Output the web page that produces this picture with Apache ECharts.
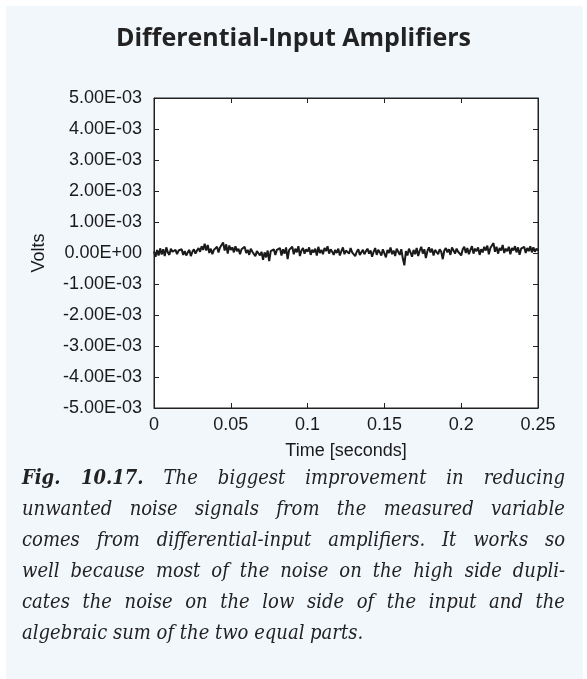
<!DOCTYPE html>
<html>
<head>
<meta charset="utf-8">
<script src="https://cdn.jsdelivr.net/npm/echarts@6/dist/echarts.min.js"></script>
<style>
html,body{margin:0;padding:0;background:#fff;}
#wrap{position:relative;width:587px;height:679px;}
#panel{position:absolute;left:6px;top:6px;width:577px;height:673px;background:#f2f7fc;}
#main{position:absolute;left:0;top:0;width:587px;height:679px;}
.cap{position:absolute;left:22px;top:462px;width:543px;font-family:'DejaVu Serif Condensed','DejaVu Serif',serif;font-style:italic;font-size:20px;color:#222;}
.cap div{height:31px;line-height:31px;text-align:justify;text-align-last:justify;white-space:nowrap;}
.cap div.last{text-align-last:left;}
</style>
</head>
<body>
<div id="wrap">
<div id="panel"></div>
<div id="main"></div>
<div class="cap">
<div><b>Fig. 10.17.</b> The biggest improvement in reducing</div>
<div>unwanted noise signals from the measured variable</div>
<div>comes from differential-input amplifiers. It works so</div>
<div>well because most of the noise on the high side dupli-</div>
<div>cates the noise on the low side of the input and the</div>
<div class="last">algebraic sum of the two equal parts.</div>
</div>
</div>
<script type="text/javascript">
// time step 1 ms, values in millivolts
var timeStart = 0;
var timeStep = 0.001;
var noiseMilliVolts = [
  0.05, -0.12, 0.10, -0.08, 0.15, -0.05, 0.12, -0.10, 0.18, 0.02,
  -0.06, 0.14, 0.04, -0.02, 0.10, -0.04, 0.08, 0.02, 0.12, -0.06,
  0.06, -0.08, 0.02, 0.10, -0.10, 0.04, 0.12, -0.02, 0.08, 0.16,
  0.04, 0.22, 0.10, 0.30, 0.08, 0.26, 0.00, 0.14, -0.04, 0.10,
  0.06, 0.20, 0.02, 0.18, 0.12, 0.34, 0.08, 0.28, -0.02, 0.24,
  0.10, 0.18, 0.02, 0.22, 0.06, 0.14, -0.04, 0.12, 0.08, 0.20,
  0.00, 0.10, -0.06, 0.14, 0.04, 0.08, -0.10, 0.06, 0.02, -0.08,
  0.04, -0.22, 0.02, -0.14, 0.08, -0.26, 0.06, 0.00, 0.12, -0.06,
  0.10, 0.04, 0.16, -0.08, 0.12, -0.02, 0.18, -0.20, 0.10, 0.06,
  0.20, -0.04, 0.14, 0.02, 0.22, -0.10, 0.08, 0.16, -0.02, 0.12,
  0.04, 0.18, -0.06, 0.10, 0.02, 0.14, -0.08, 0.20, 0.00, 0.10,
  -0.04, 0.16, 0.06, 0.22, -0.02, 0.12, 0.04, -0.06, 0.10, 0.00,
  0.14, -0.08, 0.06, 0.18, -0.04, 0.08, 0.12, -0.02, 0.16, 0.02,
  0.08, -0.10, 0.04, 0.12, -0.06, 0.02, 0.10, -0.04, 0.06, 0.14,
  -0.02, 0.08, -0.12, 0.04, 0.16, -0.06, 0.10, 0.02, -0.08, 0.12,
  0.06, -0.14, 0.10, 0.00, 0.18, -0.04, 0.08, -0.10, 0.14, 0.04,
  -0.06, 0.12, -0.18, -0.40, 0.06, -0.08, 0.14, 0.02, -0.12, 0.10,
  -0.04, 0.16, -0.10, 0.08, 0.20, -0.02, 0.12, -0.16, 0.06, 0.18,
  0.02, 0.14, -0.08, 0.10, 0.16, -0.04, 0.12, 0.04, -0.20, 0.08,
  0.16, 0.02, 0.12, -0.06, 0.18, 0.08, -0.02, 0.14, 0.04, 0.10,
  -0.08, 0.12, 0.20, 0.00, 0.16, -0.04, 0.10, 0.22, -0.02, 0.14,
  0.06, 0.18, -0.06, 0.12, 0.02, 0.20, 0.08, 0.24, -0.04, 0.16,
  0.10, 0.32, 0.04, 0.20, -0.02, 0.16, 0.08, 0.26, 0.00, 0.14,
  0.06, 0.20, -0.04, 0.16, 0.08, 0.22, 0.02, 0.18, -0.06, 0.14,
  0.10, 0.20, 0.00, 0.16, 0.06, 0.22, 0.02, 0.18, 0.04, 0.14,
  0.08
];
var yTickLabels = {
  '5': '5.00E-03', '4': '4.00E-03', '3': '3.00E-03', '2': '2.00E-03', '1': '1.00E-03',
  '0': '0.00E+00', '-1': '-1.00E-03', '-2': '-2.00E-03', '-3': '-3.00E-03', '-4': '-4.00E-03', '-5': '-5.00E-03'
};

var points = [];
for (var i = 0; i < noiseMilliVolts.length; i++) {
  points.push([+(timeStart + i * timeStep).toFixed(3), noiseMilliVolts[i]]);
}

var lab = {color: '#1a1a1a', fontFamily: 'Liberation Sans', fontSize: 18};
var tick = {show: true, inside: true, length: 5, lineStyle: {color: '#222'}};
var line = {show: true, onZero: false, lineStyle: {color: '#222', width: 1}};

var myChart = echarts.init(document.getElementById('main'));
myChart.setOption({
  animation: false,
  title: {
    text: 'Differential-Input Amplifiers',
    left: 'center',
    top: 21,
    textStyle: {fontFamily: 'Open Sans', fontWeight: 'bold', fontSize: 25, color: '#222'}
  },
  grid: {left: 154, right: 49, top: 98, bottom: 271, show: true, backgroundColor: '#fff', borderColor: '#222', borderWidth: 1},
  xAxis: [{
    type: 'value', min: 0, max: 0.25, interval: 0.05,
    name: 'Time [seconds]', nameLocation: 'middle', nameGap: 34,
    nameTextStyle: lab,
    axisLine: line, axisTick: tick, splitLine: {show: false},
    axisLabel: Object.assign({margin: 8}, lab)
  }, {
    type: 'value', position: 'top', min: 0, max: 0.25, interval: 0.05,
    axisLine: line, axisTick: tick, splitLine: {show: false}, axisLabel: {show: false}
  }],
  yAxis: [{
    type: 'value', min: -5, max: 5, interval: 1,
    name: 'Volts', nameLocation: 'middle', nameGap: 106,
    nameTextStyle: lab,
    axisLine: line, axisTick: tick, splitLine: {show: false},
    axisLabel: Object.assign({margin: 12, formatter: function (v) { return yTickLabels[String(v)]; }}, lab)
  }, {
    type: 'value', position: 'right', min: -5, max: 5, interval: 1,
    axisLine: line, axisTick: tick, splitLine: {show: false}, axisLabel: {show: false}
  }],
  series: [{
    type: 'line',
    data: points,
    showSymbol: false,
    lineStyle: {color: '#1a1a1a', width: 2}
  }]
});
</script>
</body>
</html>
